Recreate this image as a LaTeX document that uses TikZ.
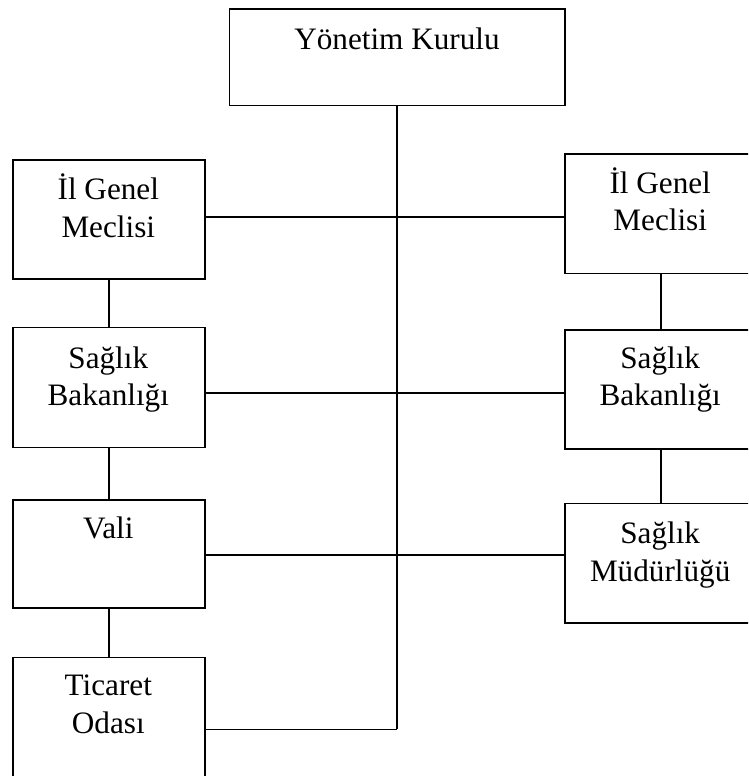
\documentclass[tikz,border=0pt]{standalone}
\usepackage{fontspec}
\setmainfont{Liberation Serif}
\begin{document}
\begin{tikzpicture}[x=1pt,y=-1pt,
  box/.style={draw,line width=1.7pt,rectangle,anchor=north west,inner sep=0pt},
  lbl/.style={anchor=base,inner sep=0pt,align=center,font=\fontsize{31.2}{37.5}\selectfont},
  conn/.style={line width=1.6pt}]
\useasboundingbox (0,0) rectangle (748,776);
\clip (0,0) rectangle (748,776);
% boxes
\node[box,minimum width=335.5pt,minimum height=96.2pt] (top) at (228.5,8.3) {};
\node[box,minimum width=192pt,minimum height=119.3pt] (lb1) at (12.3,159) {};
\node[box,minimum width=192pt,minimum height=120pt] (lb2) at (12.3,326.7) {};
\node[box,minimum width=192pt,minimum height=108.3pt] (lb3) at (12.3,499) {};
\node[box,minimum width=192pt,minimum height=120pt] (lb4) at (12.3,656.7) {};
\node[box,minimum width=192pt,minimum height=119.4pt] (rb1) at (564.3,153.3) {};
\node[box,minimum width=192pt,minimum height=119.3pt] (rb2) at (564.3,329) {};
\node[box,minimum width=192pt,minimum height=119.6pt] (rb3) at (564.3,502.7) {};
% texts (base anchor = baseline of last line)
\node[lbl] (ttop) at (397,50) {Yönetim Kurulu};
\node[lbl] (tl1) at (108.3,237.3) {İl Genel\\Meclisi};
\node[lbl] (tl2) at (108.3,405.7) {Sağlık\\Bakanlığı};
\node[lbl] (tl3) at (108.3,538) {Vali};
\node[lbl] (tl4) at (108.3,733.3) {Ticaret\\Odası};
\node[lbl] (tr1) at (660.2,230.5) {İl Genel\\Meclisi};
\node[lbl] (tr2) at (660.2,405.7) {Sağlık\\Bakanlığı};
\node[lbl] (tr3) at (660.2,581) {Sağlık\\Müdürlüğü};
% level coordinates
\coordinate (h1) at (0,216.7);
\coordinate (h2) at (0,392.7);
\coordinate (h3) at (0,554.7);
\coordinate (h4) at (0,729.3);
\coordinate (trunkend) at (397,729.3);
% trunk
\draw[conn] (top.south -| trunkend) -- (trunkend);
\draw[conn] (lb4.east |- h4) -- (trunkend);
% horizontal links
\draw[conn] (lb1.east |- h1) -- (rb1.west |- h1);
\draw[conn] (lb2.east |- h2) -- (rb2.west |- h2);
\draw[conn] (lb3.east |- h3) -- (rb3.west |- h3);
% vertical links
\draw[conn] (lb1.south) -- (lb2.north);
\draw[conn] (lb2.south) -- (lb3.north);
\draw[conn] (lb3.south) -- (lb4.north);
\draw[conn] (rb1.south) -- (rb2.north);
\draw[conn] (rb2.south) -- (rb3.north);
\end{tikzpicture}
\end{document}
